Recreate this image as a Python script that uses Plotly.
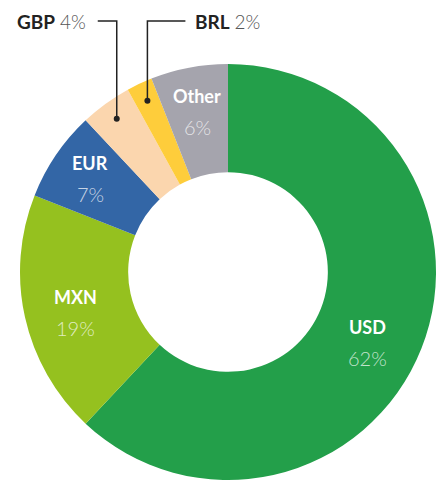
import math
import plotly.graph_objects as go

currencies = ["USD", "MXN", "EUR", "GBP", "BRL", "Other"]
shares = [62, 19, 7, 4, 2, 6]
colors = ["#239f4a", "#95c11f", "#3366a6", "#fbd6ae", "#fecd3b", "#a5a4ad"]
outside = ["GBP", "BRL"]

# page body has an 8px default margin; figure sized so it fits the 444x480 window
OFF = 8
W, H = 444 - OFF, 480 - OFF
cx, cy = 228, 272          # visible pixel centre
R = 208
hole = 0.48
FONT = "Lato, 'Source Sans Pro', 'Noto Sans', sans-serif"

# label placement styles (radius factor, angular nudge in degrees)
label_r = {"USD": 0.75, "MXN": 0.76, "EUR": 0.80, "Other": 0.79}
label_nudge = {"USD": 5, "MXN": -2, "EUR": 0, "Other": 0}


def px(x):
    return (x - OFF) / W


def py(y):
    return 1 - (y - OFF) / H


fig = go.Figure(go.Pie(
    labels=currencies, values=shares, sort=False, direction="clockwise",
    rotation=0, hole=hole, textinfo="none", hoverinfo="label+percent",
    marker=dict(colors=colors, line=dict(width=0)),
    domain=dict(x=[px(cx - R), px(cx + R)], y=[py(cy + R), py(cy - R)]),
    showlegend=False,
))

total = sum(shares)
annotations = []
shapes = []
cum = 0
label_y = 21
for name, v in zip(currencies, shares):
    mid_deg = (cum + v / 2) / total * 360
    cum += v
    if name not in outside:
        a = math.radians(mid_deg + label_nudge[name])
        r = label_r[name] * R
        x, y = cx + r * math.sin(a), cy - r * math.cos(a)
        annotations.append(dict(x=px(x), y=py(y - 15), xref="paper", yref="paper",
                                xanchor="center", yanchor="middle",
                                text=f"<b>{name}</b>", showarrow=False,
                                font=dict(family=FONT, size=18, color="white")))
        annotations.append(dict(x=px(x), y=py(y + 16), xref="paper", yref="paper",
                                xanchor="center", yanchor="middle",
                                text=f"{v}%", showarrow=False,
                                font=dict(family=FONT, size=20,
                                          color="rgba(255,255,255,0.72)", weight=300)))
    else:
        a = math.radians(mid_deg)
        r = 0.91 * R
        dx, dy = cx + r * math.sin(a), cy - r * math.cos(a)
        if name == "GBP":
            hx = dx - 19
            tx, anchor = hx - 10, "right"
        else:
            hx = dx + 38
            tx, anchor = hx + 8, "left"
        shapes.append(dict(type="path", xref="paper", yref="paper",
                           path=f"M {px(hx)} {py(label_y)} L {px(dx)} {py(label_y)} L {px(dx)} {py(dy)}",
                           line=dict(color="#222", width=1.5)))
        shapes.append(dict(type="circle", xref="paper", yref="paper",
                           x0=px(dx - 3), x1=px(dx + 3), y0=py(dy + 3), y1=py(dy - 3),
                           fillcolor="#222", line=dict(width=0)))
        annotations.append(dict(x=px(tx), y=py(label_y), xref="paper", yref="paper",
                                xanchor=anchor, yanchor="middle", showarrow=False,
                                text=f"<b>{name}</b> <span style='color:#555;font-weight:300'>{v}%</span>",
                                font=dict(family=FONT, size=19, color="#222")))

fig.update_layout(
    width=W, height=H, margin=dict(l=0, r=0, t=0, b=0),
    paper_bgcolor="white", plot_bgcolor="white",
    annotations=annotations, shapes=shapes,
)

fig.write_html("out.html")
